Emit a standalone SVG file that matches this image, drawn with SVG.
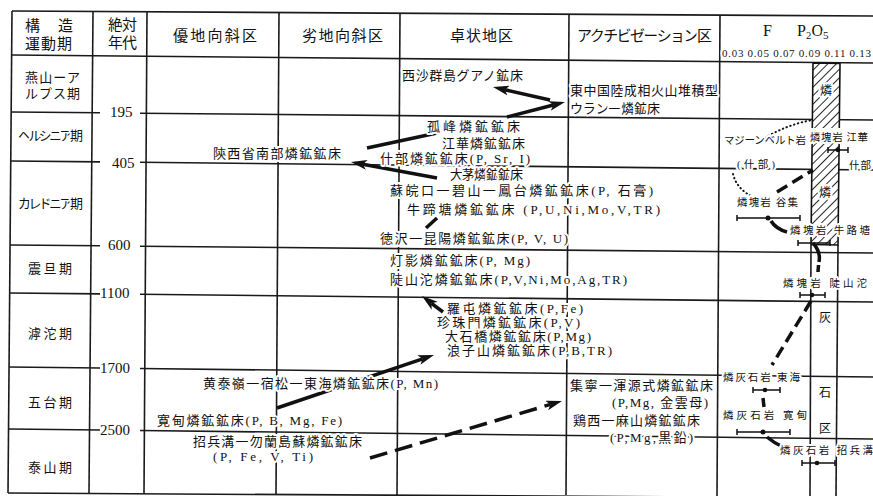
<svg xmlns="http://www.w3.org/2000/svg" width="873" height="496" viewBox="0 0 873 496">
<defs>
<style>
.g{stroke:#1a1a1a;stroke-width:1.6;fill:none}
.t{font-family:"Liberation Serif","Noto Sans CJK JP",serif;fill:#111;stroke:#fff;stroke-width:4;stroke-linejoin:round;paint-order:stroke}
.h{font-size:15px}
.b{font-size:13px}
.s{font-size:10.5px}
.y{font-size:15px}
.c{stroke:#111;stroke-width:3.5;fill:none}
.d{stroke-dasharray:18 8}
.dt{stroke:#111;stroke-width:2;fill:none;stroke-dasharray:0.5 3.5;stroke-linecap:round}
.td{stroke:#111;stroke-width:3.5;fill:none;stroke-dasharray:12 6}
.eb{stroke:#111;stroke-width:1.5;fill:none}
</style>
<marker id="ah" markerUnits="userSpaceOnUse" markerWidth="16" markerHeight="10" refX="4" refY="5" orient="auto"><path d="M0,0 L16,5 L0,10 L4,5 z" fill="#111"/></marker>
<pattern id="hatch" patternUnits="userSpaceOnUse" width="6" height="6" patternTransform="rotate(45)"><rect width="6" height="6" fill="#fff"/><line x1="0" y1="0" x2="0" y2="6" stroke="#111" stroke-width="1.8"/></pattern>
</defs>
<rect width="873" height="496" fill="#fff"/>

<g id="grid" class="g">
<line x1="12" y1="11" x2="873" y2="16"/>
<line x1="12" y1="55" x2="873" y2="63"/>
<line x1="11" y1="112" x2="100" y2="112.8"/><line x1="140" y1="113.2" x2="873" y2="120"/>
<line x1="11" y1="161" x2="100" y2="161.9"/><line x1="140" y1="162.3" x2="873" y2="170"/>
<line x1="10" y1="245" x2="100" y2="245.8"/><line x1="140" y1="246.2" x2="873" y2="253"/>
<line x1="10" y1="293" x2="100" y2="293.9"/><line x1="140" y1="294.3" x2="873" y2="302"/>
<line x1="9" y1="367" x2="100" y2="368"/><line x1="140" y1="368.5" x2="873" y2="377"/>
<line x1="9" y1="429" x2="100" y2="430"/><line x1="140" y1="430.5" x2="873" y2="439"/>
<line x1="8" y1="493" x2="873" y2="498"/>
<line x1="12" y1="11" x2="8" y2="493"/>
<line x1="93" y1="11.5" x2="89" y2="493"/>
<line x1="147" y1="12" x2="144" y2="493.5"/>
<line x1="279" y1="13" x2="276" y2="494"/>
<line x1="400" y1="14" x2="397" y2="495"/>
<line x1="569" y1="15" x2="566" y2="495"/>
<line x1="720" y1="16" x2="717" y2="496"/>
<line x1="811" y1="245" x2="810" y2="496"/>
<line x1="838" y1="245" x2="836" y2="496"/>
</g>

<g id="phosphorite-band">
<polygon points="813,63 840,63.5 838,245 811,244.5" fill="url(#hatch)" stroke="#111" stroke-width="1.6"/>
<rect x="808" y="128" width="34" height="15" fill="#fff"/>
</g>

<g id="connectors">
<line class="c" x1="550" y1="100" x2="504.7" y2="89.7" marker-end="url(#ah)"/>
<line class="c" x1="507" y1="117" x2="553.4" y2="105" marker-end="url(#ah)"/>
<line class="c" x1="367" y1="148" x2="437" y2="133"/>
<line class="c" x1="437" y1="178" x2="362.8" y2="164.2" marker-end="url(#ah)"/>
<line class="c" x1="437" y1="218" x2="426" y2="228"/>
<line class="c" x1="443" y1="312" x2="431.5" y2="303.3" marker-end="url(#ah)"/>
<line class="c" x1="277" y1="408" x2="422.6" y2="358.8" marker-end="url(#ah)"/>
<line class="c d" x1="370" y1="458" x2="550.5" y2="404.4" marker-end="url(#ah)"/>
<path class="dt" d="M765 138 Q788 124 813 120"/>
<path class="dt" d="M733 174 Q737 190 755 198"/>
<path class="td" d="M777 192 L813 170"/>
<path class="c" d="M771 221 Q776 229 787 232"/>
<path class="c" d="M813 243 Q821 252 819 262"/>
<path class="c" d="M818.5 265 L818 272"/>
<path class="td" d="M811 301 L772 365"/>
<path class="c" d="M763 398 L764 407"/>
<path class="c" d="M767 437 Q774 443 783 447"/>
</g>

<g id="error-bars">
<g id="eb-jianghua"><path class="eb" d="M828 150 H848 M828 147 V153 M848 147 V153"/><circle cx="838" cy="150" r="2.3" fill="#111"/></g>
<g id="eb-guji"><path class="eb" d="M737 218 H800 M737 215 V221 M800 215 V221"/><circle cx="768" cy="218" r="2.5" fill="#111"/></g>
<g id="eb-niulutang"><path class="eb" d="M798 243 H830 M798 240 V246 M830 240 V246"/></g>
<g id="eb-doushantuo"><path class="eb" d="M800 295 H825 M800 292 V298 M825 292 V298"/><circle cx="812" cy="295" r="2.3" fill="#111"/></g>
<g id="eb-donghai"><path class="eb" d="M753 390 H780 M753 387 V393 M780 387 V393"/><circle cx="765" cy="390" r="2.3" fill="#111"/></g>
<g id="eb-kuandian"><path class="eb" d="M737 432 H790 M737 429 V435 M790 429 V435"/><circle cx="763" cy="432" r="2.5" fill="#111"/></g>
<g id="eb-zhaobinggou"><path class="eb" d="M802 463 H835 M802 460 V466 M835 460 V466"/><circle cx="817" cy="463" r="2.3" fill="#111"/></g>
</g>

<g id="header">
<text class="t h" x="25" y="31">構</text><text class="t h" x="58" y="31">造</text>
<text class="t h" x="25" y="49" textLength="47">運動期</text>
<text class="t h" x="108" y="30" textLength="29">絶対</text>
<text class="t h" x="108" y="48" textLength="29">年代</text>
<text class="t h" x="173" y="41" textLength="84">優地向斜区</text>
<text class="t h" x="302" y="41" textLength="81">劣地向斜区</text>
<text class="t h" x="450" y="41" textLength="63">卓状地区</text>
<text class="t h" x="577" y="41" textLength="135">アクチビゼーション区</text>
<text class="t" style="font-size:16px" x="763" y="36">F</text>
<text class="t" style="font-size:16px" x="797" y="36">P<tspan font-size="11" dy="3">2</tspan><tspan dy="-3">O</tspan><tspan font-size="11" dy="3">5</tspan></text>
<text class="t" style="font-size:11px" x="722" y="57" textLength="149">0.03 0.05 0.07 0.09 0.11 0.13</text>
</g>

<g id="periods">
<text class="t b" x="25" y="82" textLength="55">燕山ーア</text>
<text class="t b" x="25" y="98" textLength="55">ルプス期</text>
<text class="t b" x="18" y="140" textLength="65">ヘルシニア期</text>
<text class="t b" x="18" y="208" textLength="65">カレドニア期</text>
<text class="t b" x="28" y="273" textLength="44">震旦期</text>
<text class="t b" x="28" y="338" textLength="44">滹沱期</text>
<text class="t b" x="28" y="407" textLength="44">五台期</text>
<text class="t b" x="28" y="472" textLength="44">泰山期</text>
</g>

<g id="ages">
<text class="t y" x="110" y="117">195</text>
<text class="t y" x="112" y="168">405</text>
<text class="t y" x="108" y="250">600</text>
<text class="t y" x="100" y="298">1100</text>
<text class="t y" x="100" y="373">1700</text>
<text class="t y" x="100" y="435">2500</text>
</g>

<g id="n-xisha"><text class="t b" x="402" y="80" textLength="121">西沙群島グアノ鉱床</text></g>
<g id="n-eastchina"><text class="t b" x="570" y="95" textLength="148">東中国陸成相火山堆積型</text><text class="t b" x="570" y="113" textLength="90">ウラン一燐鉱床</text></g>
<g id="n-gufeng"><text class="t b" x="427" y="131" textLength="93">孤峰燐鉱鉱床</text></g>
<g id="n-jianghua"><text class="t b" x="442" y="148" textLength="83">江華燐鉱鉱床</text></g>
<g id="n-shaanxi"><text class="t b" x="213" y="158" textLength="128">陝西省南部燐鉱鉱床</text></g>
<g id="n-shifang"><text class="t b" x="380" y="163" textLength="150">什部燐鉱鉱床(P, Sr, I)</text></g>
<g id="n-damao"><text class="t b" x="450" y="179" textLength="73">大茅燐鉱鉱床</text></g>
<g id="n-fengtai"><text class="t b" x="390" y="195" textLength="263">蘇皖口一碧山一鳳台燐鉱鉱床(P, 石膏)</text></g>
<g id="n-niutitang"><text class="t b" x="407" y="214" textLength="253">牛蹄塘燐鉱鉱床 (P,U,Ni,Mo,V,TR)</text></g>
<g id="n-kunyang"><text class="t b" x="380" y="243" textLength="188">徳沢一昆陽燐鉱鉱床(P, V, U)</text></g>
<g id="n-dengying"><text class="t b" x="390" y="265" textLength="140">灯影燐鉱鉱床(P, Mg)</text></g>
<g id="n-doushantuo"><text class="t b" x="390" y="284" textLength="237">陡山沱燐鉱鉱床(P,V,Ni,Mo,Ag,TR)</text></g>
<g id="n-luotun"><text class="t b" x="447" y="313" textLength="136">羅屯燐鉱鉱床(P,Fe)</text></g>
<g id="n-zhenzhumen"><text class="t b" x="437" y="327" textLength="143">珍珠門燐鉱鉱床(P,V)</text></g>
<g id="n-dashiqiao"><text class="t b" x="445" y="341" textLength="146">大石橋燐鉱鉱床(P,Mg)</text></g>
<g id="n-langzishan"><text class="t b" x="447" y="355" textLength="165">浪子山燐鉱鉱床(P,B,TR)</text></g>
<g id="n-donghai"><text class="t b" x="203" y="388" textLength="235">黄泰嶺一宿松一東海燐鉱鉱床(P, Mn)</text></g>
<g id="n-kuandian"><text class="t b" x="157" y="425" textLength="185">寛甸燐鉱鉱床(P, B, Mg, Fe)</text></g>
<g id="n-zhaobinggou"><text class="t b" x="193" y="446" textLength="169">招兵溝一勿蘭島蘇燐鉱鉱床</text><text class="t b" x="213" y="461" textLength="100">(P, Fe, V, Ti)</text></g>
<g id="n-jining"><text class="t b" x="570" y="390" textLength="143">集寧一渾源式燐鉱鉱床</text><text class="t b" x="612" y="407" textLength="96">(P,Mg, 金雲母)</text></g>
<g id="n-jixi"><text class="t b" x="573" y="425" textLength="127">鶏西一麻山燐鉱鉱床</text><text class="t b" x="610" y="442" textLength="83">(P,Mg,黒鉛)</text></g>

<g id="f-column">
<text class="t s" x="724" y="144" textLength="82">マジーンベルト岩</text>
<text class="t s" x="737" y="168" textLength="38">(什部)</text>
<text class="t s" x="810" y="141" textLength="58">燐塊岩 江華</text>
<text class="t s" x="849" y="169" textLength="22">什部</text>
<text class="t s" x="737" y="206" textLength="61">燐塊岩 谷集</text>
<text class="t s" x="790" y="234" textLength="80">燐塊岩 牛路塘</text>
<text class="t s" x="783" y="287" textLength="84">燐塊岩 陡山沱</text>
<text class="t s" x="723" y="381" textLength="77">燐灰石岩 東海</text>
<text class="t s" x="723" y="419" textLength="84">燐灰石岩 寛甸</text>
<text class="t s" x="780" y="454" textLength="93">燐灰石岩 招兵溝</text>
<text class="t" style="font-size:12px" x="820" y="95">燐</text>
<text class="t" style="font-size:12px" x="819" y="197">燐</text>
<text class="t" style="font-size:12px" x="819" y="322">灰</text>
<text class="t" style="font-size:12px" x="819" y="397">石</text>
<text class="t" style="font-size:12px" x="819" y="433">区</text>
</g>
</svg>
